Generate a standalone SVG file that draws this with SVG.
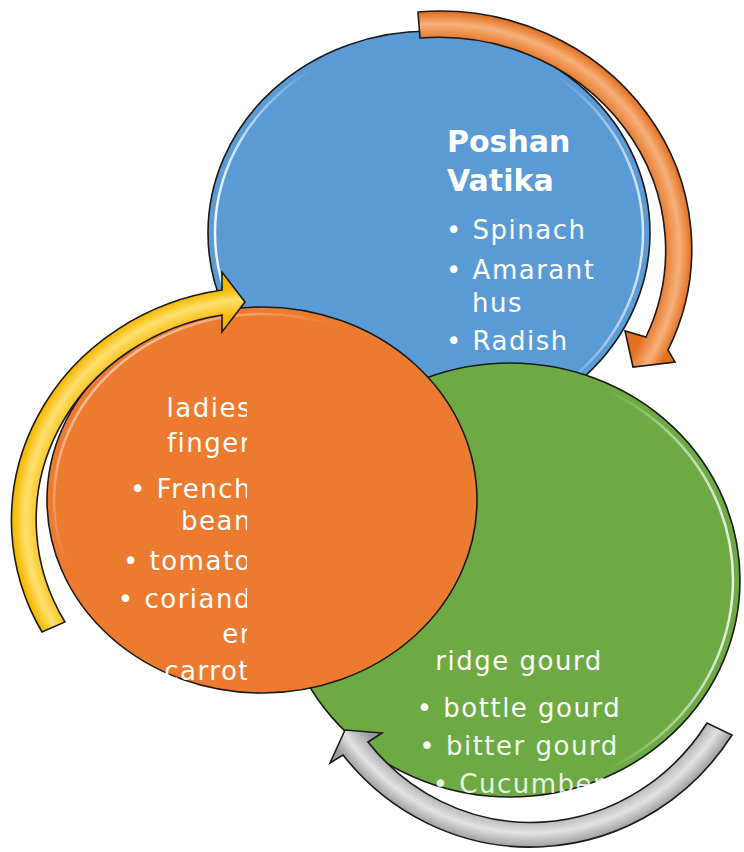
<svg xmlns="http://www.w3.org/2000/svg" width="744" height="852" viewBox="0 0 744 852">
<style>
.edge{stroke:#1a1a1a;stroke-width:1.6}
.hl{fill:none;stroke-width:2.5}
.t{font-family:"DejaVu Sans","Liberation Sans",sans-serif;fill:#ffffff;font-size:26px;letter-spacing:1.5px}
.title{font-family:"DejaVu Sans","Liberation Sans",sans-serif;fill:#ffffff;font-size:30px;font-weight:bold}
.arrow{stroke:#1a1a1a;stroke-width:1.6;stroke-linejoin:miter}
</style>
<defs>
<linearGradient id="hlBlue" x1="0" y1="0" x2="1" y2="0">
<stop offset="0" stop-color="#fff" stop-opacity="0.9"/>
<stop offset="0.22" stop-color="#fff" stop-opacity="0"/>
<stop offset="0.8" stop-color="#fff" stop-opacity="0"/>
<stop offset="1" stop-color="#fff" stop-opacity="0.75"/>
</linearGradient>
<linearGradient id="hlOrange" x1="0" y1="0" x2="1" y2="1">
<stop offset="0" stop-color="#fff" stop-opacity="0.85"/>
<stop offset="0.35" stop-color="#fff" stop-opacity="0"/>
</linearGradient>
<linearGradient id="hlGreen" x1="0" y1="0" x2="1" y2="0">
<stop offset="0.72" stop-color="#fff" stop-opacity="0"/>
<stop offset="1" stop-color="#fff" stop-opacity="0.85"/>
</linearGradient>
<radialGradient id="gOrange" gradientUnits="userSpaceOnUse" cx="0" cy="0" r="1" gradientTransform="translate(440 250) scale(252 238)">
<stop offset="0.88" stop-color="#E2701F"/>
<stop offset="0.95" stop-color="#F7B07A"/>
<stop offset="1" stop-color="#E2701F"/>
</radialGradient>
<radialGradient id="gYellow" gradientUnits="userSpaceOnUse" cx="0" cy="0" r="1" gradientTransform="translate(262 520) scale(249 233)">
<stop offset="0.88" stop-color="#F5B800"/>
<stop offset="0.95" stop-color="#FFE070"/>
<stop offset="1" stop-color="#F5B800"/>
</radialGradient>
<radialGradient id="gGray" gradientUnits="userSpaceOnUse" cx="0" cy="0" r="1" gradientTransform="translate(530 600) scale(241 248)">
<stop offset="0.86" stop-color="#9C9C9C"/>
<stop offset="0.94" stop-color="#E2E2E2"/>
<stop offset="1" stop-color="#9C9C9C"/>
</radialGradient>
<clipPath id="clipOrangeText">
<rect x="0" y="380" width="247" height="320"/>
</clipPath>
</defs>
<rect x="0" y="0" width="744" height="852" fill="#ffffff"/>

<g id="node-blue">
<ellipse cx="429" cy="233" rx="221" ry="202" fill="#5B9BD5" class="edge"/>
<ellipse cx="429" cy="233" rx="214" ry="195" class="hl" stroke="url(#hlBlue)"/>
<text class="title" x="447" y="152">Poshan</text>
<text class="title" x="447" y="191">Vatika</text>
<text class="t" x="446" y="239">• Spinach</text>
<text class="t" x="446" y="279">• Amarant</text>
<text class="t" x="472" y="312">hus</text>
<text class="t" x="446" y="350">• Radish</text>
</g>

<g id="node-green">
<ellipse cx="510" cy="580" rx="230" ry="217" fill="#6DAA43" class="edge"/>
<ellipse cx="510" cy="580" rx="223" ry="210" class="hl" stroke="url(#hlGreen)"/>
<text class="t" x="519" y="670" text-anchor="middle">ridge gourd</text>
<text class="t" x="519" y="717" text-anchor="middle">• bottle gourd</text>
<text class="t" x="519" y="755" text-anchor="middle" opacity="0.92">• bitter gourd</text>
<text class="t" x="519" y="793" text-anchor="middle" opacity="0.85">• Cucumber</text>
</g>

<g id="node-orange">
<ellipse cx="262" cy="500" rx="215" ry="193" fill="#EC7B30" class="edge"/>
<ellipse cx="262" cy="500" rx="208" ry="186" class="hl" stroke="url(#hlOrange)"/>
<g clip-path="url(#clipOrangeText)">
<text class="t" x="252" y="417" text-anchor="end">ladies</text>
<text class="t" x="252" y="452" text-anchor="end">finger</text>
<text class="t" x="252" y="498" text-anchor="end">• French</text>
<text class="t" x="252" y="530" text-anchor="end">bean</text>
<text class="t" x="252" y="570" text-anchor="end">• tomato</text>
<text class="t" x="252" y="608" text-anchor="end">• coriand</text>
<text class="t" x="252" y="643" text-anchor="end">er</text>
<text class="t" x="250" y="680" text-anchor="end">carrot</text>
</g>
</g>

<g id="connectors">
<path id="arrow-orange" class="arrow" fill="url(#gOrange)" d="M418,12 A252,238 0 0 1 668,350 L675,362 L633,367 L625,331 L646,337 A227,213 0 0 0 420,38 Z"/>
<path id="arrow-yellow" class="arrow" fill="url(#gYellow)" d="M42,632 A249,233 0 0 1 222,290 L222,272 L245,302 L222,332 L222,315 A224,208 0 0 0 65,622 Z"/>
<path id="arrow-gray" class="arrow" fill="url(#gGray)" d="M732,735 A241,248 0 0 1 343,755 L330,763 L345,730 L382,733 L368,742 A212,224 0 0 0 707,723 Z"/>
</g>
</svg>
